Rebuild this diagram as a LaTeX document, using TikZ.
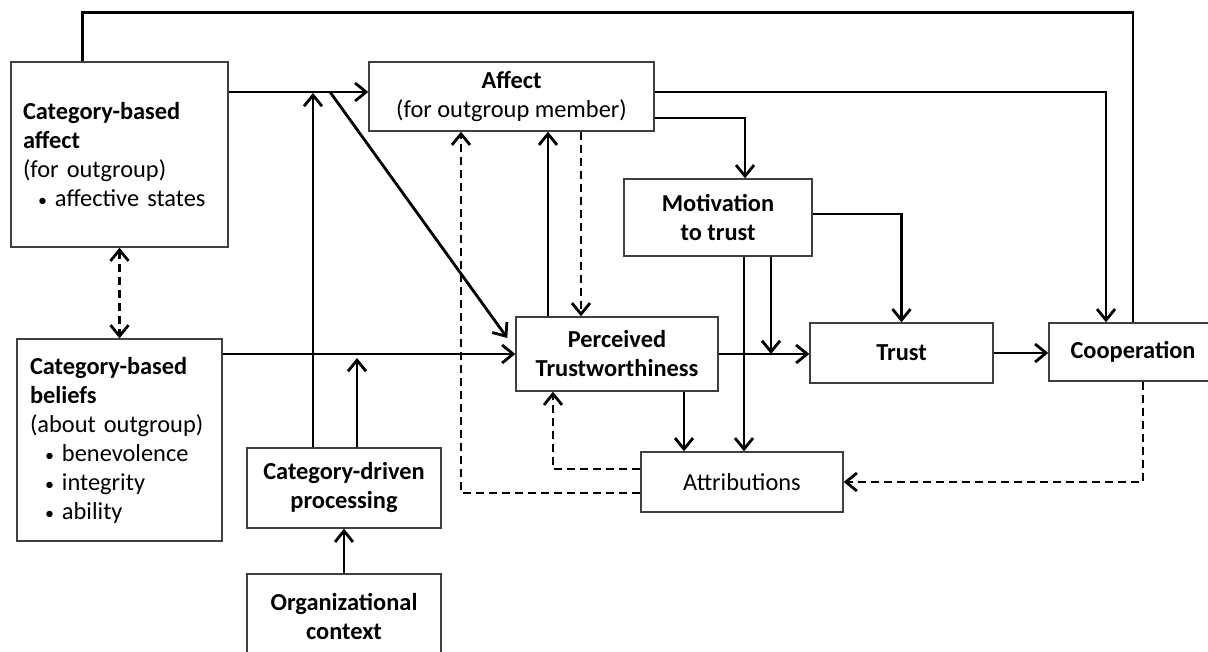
\documentclass[tikz,border=0pt]{standalone}
\usepackage{fontspec}
\setmainfont{Carlito}
\usetikzlibrary{arrows.meta}
\newcommand{\bul}[1]{\hspace*{7.5pt}\makebox[8.5pt][l]{\small\textbullet}#1}

\begin{document}
\begin{tikzpicture}[x=0.5pt, y=-0.5pt,
  box/.style={draw=black!75, line width=0.7pt, fill=white, inner sep=0pt,
    align=center, font=\fontsize{12.2}{14.5}\selectfont},
  bbox/.style={box, font=\fontsize{12.2}{14.5}\selectfont\bfseries},
  ln/.style={line width=1.4pt},
  arr/.style={ln, -{Straight Barb[length=5.5pt,width=9pt]}},
  dsh/.style={arr, dash pattern=on 4pt off 2.5pt},
  dsh2/.style={ln, dash pattern=on 4pt off 2.5pt,
    {Straight Barb[length=5.5pt,width=9pt]}-{Straight Barb[length=5.5pt,width=9pt]}}]
\clip (0,0) rectangle (1208,652);
\fill[white] (0,0) rectangle (1208,652);

\node[box, align=left, inner xsep=6pt, text width=96.5pt, minimum height=92.5pt] (cbaff) at (119.5,154.5)
  {\textbf{Category-based}\\\textbf{affect}\\(for outgroup)\\\bul{affective states}};
\node[box, align=left, inner xsep=6.5pt, text width=89.5pt, minimum height=101pt] (cbbel) at (119.5,440)
  {\textbf{Category-based}\\\textbf{beliefs}\\(about outgroup)\\\bul{benevolence}\\\bul{integrity}\\\bul{ability}};
\node[bbox, minimum width=97pt, minimum height=40pt] (cdp) at (344,488) {Category-driven\\processing};
\node[bbox, minimum width=97pt, minimum height=43pt] (org) at (344,617) {Organizational\\context};
\node[box, minimum width=142.5pt, minimum height=34.5pt] (aff) at (511.5,96.5)
  {\textbf{Affect}\\(for outgroup member)};
\node[bbox, minimum width=94pt, minimum height=38.5pt] (mot) at (718,217.5) {Motivation\\to trust};
\node[bbox, minimum width=101pt, minimum height=37pt] (pt) at (617,354) {Perceived\\Trustworthiness};
\node[bbox, minimum width=91.5pt, minimum height=30pt] (trust) at (901.5,353) {Trust};
\node[bbox, minimum width=84pt, minimum height=29pt] (coop) at (1133,352) {Cooperation};
\node[box, minimum width=101pt, minimum height=30pt] (attr) at (742,482) {Attributions};

% feedback loop over the top
\draw[ln] ([xshift=36pt]cbaff.north west) -- ++(0,-49) -| (coop.north);
% into affect
\draw[arr] (cbaff.east |- 0,92) -- (aff.west |- 0,92);
\coordinate (fork) at (330,92);
\draw[arr] (fork) -- ([xshift=-4pt,yshift=8pt]pt.west);
\draw[arr] ([xshift=-15.5pt]cdp.north) -- ([xshift=-15.5pt]cdp.north |- 0,93);
% beliefs
\draw[dsh2] (cbaff.south) -- (cbbel.north);
\draw[arr] (cbbel.east |- pt.west) -- (pt.west);
\draw[arr] ([xshift=6.5pt]cdp.north) -- ([xshift=6.5pt]cdp.north |- 0,358);
\draw[arr] (org.north) -- (cdp.south);
% affect outputs
\draw[arr] (aff.east |- 0,118) -| ([xshift=13.5pt]mot.north);
\draw[arr] (aff.east |- 0,92) -| ([xshift=-13.5pt]coop.north);
\draw[arr] ([xshift=-34.5pt]pt.north) -- ([xshift=-34.5pt]pt.north |- aff.south);
\draw[dsh] ([xshift=-18pt]pt.north |- aff.south) -- ([xshift=-18pt]pt.north);
% attributions
\draw[dsh] ([yshift=-5.5pt]attr.west) -| ([xshift=-25.25pt]aff.south);
\draw[dsh] ([yshift=6.5pt]attr.west) -| ([xshift=-32pt]pt.south);
\draw[arr] ([xshift=33.5pt]pt.south) -- ([xshift=33.5pt]pt.south |- attr.north);
\draw[arr] ([xshift=13pt]mot.south) -- ([xshift=13pt]mot.south |- attr.north);
% trust and cooperation
\draw[arr] ([xshift=26.5pt]mot.south) -- ([xshift=26.5pt]mot.south |- pt.east);
\draw[arr] (pt.east) -- (trust.west |- pt.east);
\draw[arr] ([yshift=1.75pt]mot.east) -| (trust.north);
\draw[arr] (trust.east) -- (coop.west |- trust.east);
\draw[dsh] ([xshift=5pt]coop.south) |- (attr.east);
\end{tikzpicture}
\end{document}
